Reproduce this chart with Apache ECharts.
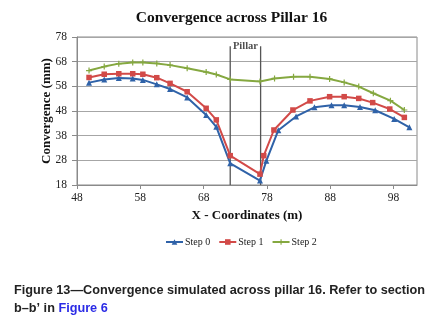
<!DOCTYPE html>
<html>
<head>
<meta charset="utf-8">
<script src="https://cdn.jsdelivr.net/npm/echarts@6/dist/echarts.min.js"></script>
<style>
html,body{margin:0;padding:0;background:#fff;}
#chart{width:446px;height:324px;}
</style>
</head>
<body>
<div id="chart"></div>
<script>
// ---- data ----
var seriesNames = ['Step 0', 'Step 1', 'Step 2'];
var step0X = [49.9,52.3,54.6,56.8,58.4,60.6,62.7,65.4,68.4,70.0,72.2,76.9,77.9,79.8,82.6,85.5,88.2,90.2,92.7,95.1,98.1,100.5];
var step0Y = [59.5,60.8,61.4,61.2,60.6,58.8,56.9,53.5,46.4,41.6,26.8,19.8,27.8,40.2,45.8,49.5,50.3,50.3,49.6,48.3,44.8,41.4];
var step1X = [49.9,52.3,54.6,56.8,58.4,60.6,62.7,65.4,68.4,70.0,72.2,76.9,77.5,79.1,82.1,84.8,87.9,90.2,92.5,94.7,97.4,99.7];
var step1Y = [61.6,62.9,63.1,63.1,62.9,61.5,59.2,55.8,49.1,44.4,29.9,22.4,29.9,40.3,48.4,52.1,53.8,53.8,53.1,51.4,48.8,45.4];
var step2X = [49.9,52.3,54.6,56.8,58.4,60.6,62.7,65.4,68.4,70.0,72.2,76.9,79.2,82.2,84.8,87.9,90.2,92.5,94.8,97.5,99.7];
var step2Y = [64.4,66.0,67.2,67.7,67.7,67.3,66.6,65.3,63.8,62.8,60.8,60.0,61.2,61.9,61.9,61.0,59.6,57.9,55.2,52.2,48.4];
var pillarX = [72.2, 77.0];
var pillarBottom = 18;
var pillarTop = 74.2;
var pillarLabel = 'Pillar';
var xTicks = [48, 58, 68, 78, 88, 98];
var yTicks = [18, 28, 38, 48, 58, 68, 78];
var xMax = 101.7;
var titleText = 'Convergence across Pillar 16';
var xName = 'X - Coordinates (m)';
var yName = 'Convergence (mm)';
var captionLine1 = 'Figure 13\u2014Convergence simulated across pillar 16. Refer to section';
var captionLine2a = 'b\u2013b\u2019 in ';
var captionLine2b = 'Figure 6';

function pairs(xs, ys) { return xs.map(function (x, i) { return [x, ys[i]]; }); }

var serif = '"Liberation Serif", "Times New Roman", serif';
var sans = '"Liberation Sans", Arial, sans-serif';
var colors = ['#2f62a8', '#d24a48', '#85a840'];
var plusPath = 'path://M4,0H6V4H10V6H6V10H4V6H0V4H4Z';

var chart = echarts.init(document.getElementById('chart'), null, {renderer: 'canvas'});

var pillarSeries = pillarX.map(function (px) {
  return {
    type: 'line', data: [[px, pillarBottom], [px, pillarTop]],
    symbol: 'none', silent: true, z: 1,
    lineStyle: {color: '#555', width: 1.3},
    legendHoverLink: false
  };
});

var option = {
  animation: false,
  color: colors,
  grid: {left: 77, right: 29, top: 37, bottom: 139, show: true, borderColor: '#8a8a8a', borderWidth: 1, backgroundColor: 'transparent'},
  graphic: [
    {type: 'text', x: 231.5, y: 18, style: {text: titleText, font: 'bold 15.5px ' + serif, fill: '#111', textAlign: 'center', textVerticalAlign: 'middle'}},
    {type: 'text', x: 14, y: 290, style: {text: captionLine1, font: '600 12.7px ' + sans, fill: '#222', textVerticalAlign: 'middle'}},
    {type: 'text', x: 14, y: 308, style: {
      text: '{a|' + captionLine2a + '}{b|' + captionLine2b + '}',
      rich: {
        a: {font: '600 12.7px ' + sans, fill: '#222'},
        b: {font: '600 12.7px ' + sans, fill: '#2b2be6'}
      },
      textVerticalAlign: 'middle'}}
  ],
  legend: {
    data: seriesNames,
    left: 160, top: 232,
    itemWidth: 17, itemHeight: 7, itemGap: 8,
    textStyle: {fontFamily: serif, fontSize: 10, color: '#222', padding: [0, 0, 0, -3]}
  },
  xAxis: {
    type: 'value', min: xTicks[0], max: xMax, interval: 10,
    name: xName, nameLocation: 'middle', nameGap: 24, nameMoveOverlap: false,
    nameTextStyle: {fontFamily: serif, fontWeight: 'bold', fontSize: 13, color: '#111'},
    axisLine: {show: true, lineStyle: {color: '#8a8a8a'}},
    axisTick: {show: true, length: 4, lineStyle: {color: '#8a8a8a'}},
    axisLabel: {fontFamily: serif, fontSize: 11.5, color: '#222', margin: 7, showMaxLabel: false,
      formatter: function (v) { return xTicks.indexOf(v) >= 0 ? String(v) : ''; }},
    splitLine: {show: false}
  },
  yAxis: {
    type: 'value', min: yTicks[0], max: yTicks[yTicks.length - 1], interval: 10,
    name: yName, nameLocation: 'middle', nameGap: 24, nameMoveOverlap: false,
    nameTextStyle: {fontFamily: serif, fontWeight: 'bold', fontSize: 13, color: '#111'},
    axisLine: {show: true, lineStyle: {color: '#8a8a8a'}},
    axisTick: {show: true, length: 5, lineStyle: {color: '#8a8a8a'}},
    axisLabel: {fontFamily: serif, fontSize: 11.5, color: '#222', margin: 10},
    splitLine: {show: true, lineStyle: {color: '#a6a6a6', width: 1}}
  },
  series: [
    {name: seriesNames[0], type: 'line', data: pairs(step0X, step0Y), symbol: 'triangle', symbolSize: 6,
      lineStyle: {width: 2, color: colors[0]}, itemStyle: {color: colors[0]}, z: 3},
    {name: seriesNames[1], type: 'line', data: pairs(step1X, step1Y), symbol: 'rect', symbolSize: 5.5,
      lineStyle: {width: 2, color: colors[1]}, itemStyle: {color: colors[1]}, z: 3},
    {name: seriesNames[2], type: 'line', data: pairs(step2X, step2Y), symbol: plusPath, symbolSize: 6,
      lineStyle: {width: 2, color: colors[2]}, itemStyle: {color: colors[2]}, z: 3}
  ].concat(pillarSeries).concat([
    {type: 'scatter', silent: true, symbolSize: 0,
      data: [[(pillarX[0] + pillarX[1]) / 2, pillarTop]],
      label: {show: true, position: 'inside', formatter: pillarLabel, offset: [0, 0],
        fontFamily: serif, fontWeight: 'bold', fontSize: 10.5, color: '#222'}}
  ])
};
chart.setOption(option);
</script>
</body>
</html>
